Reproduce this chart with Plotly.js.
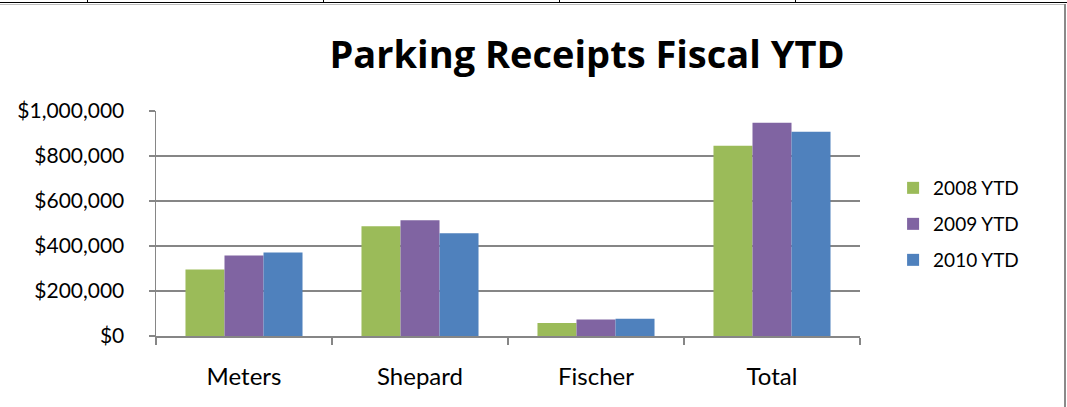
<!DOCTYPE html>
<html>
<head>
<meta charset="utf-8">
<script src="https://cdn.plot.ly/plotly-3.0.1.min.js"></script>
<style>
  html, body { margin: 0; padding: 0; background: #fff; }
  #wrap { position: relative; width: 1067px; height: 407px; overflow: hidden; }
  #chart { width: 1067px; height: 407px; }
  .deco { position: absolute; pointer-events: none; }
</style>
</head>
<body>
<div id="wrap">
  <div id="chart"></div>
  <div class="deco" style="left:0;top:2px;width:1067px;height:1px;background:#000;"></div>
  <div class="deco" style="left:0;top:4px;width:1066px;height:1px;background:#bdbdbd;"></div>
  <div class="deco" style="left:87px;top:0;width:1px;height:3px;background:#000;"></div>
  <div class="deco" style="left:323px;top:0;width:1px;height:3px;background:#000;"></div>
  <div class="deco" style="left:559px;top:0;width:1px;height:3px;background:#000;"></div>
  <div class="deco" style="left:795px;top:0;width:1px;height:3px;background:#000;"></div>
  <div class="deco" style="left:1064px;top:4px;width:2px;height:403px;background:#8a8a8a;"></div>
</div>
<script>
const categories = ["Meters", "Shepard", "Fischer", "Total"];
const seriesNames = ["2008 YTD", "2009 YTD", "2010 YTD"];
const ytd2008 = [296000, 488000, 58000, 846000];
const ytd2009 = [358000, 514000, 73000, 948000];
const ytd2010 = [371000, 457000, 77000, 908000];
const yTickVals = [0, 200000, 400000, 600000, 800000, 1000000];
const yTickText = ["$0", "$200,000", "$400,000", "$600,000", "$800,000", "$1,000,000"];
const colors = ["#9BBB59", "#8064A2", "#4F81BD"];

const FONT = "Lato, 'Open Sans', sans-serif";
const TITLE_FONT = "'Open Sans', Lato, sans-serif";
const allSeries = [ytd2008, ytd2009, ytd2010];
const legendIds = ["legend", "legend2", "legend3"];

const traces = allSeries.map((vals, i) => ({
  type: "bar",
  name: seriesNames[i],
  x: categories,
  y: vals,
  legend: legendIds[i],
  marker: { color: colors[i], line: { width: 0 } },
  hoverinfo: "x+y+name"
}));

function legendAt(py) {
  return {
    x: 1.047, xanchor: "left",
    y: (336 - py) / 225, yanchor: "middle",
    font: { family: FONT, size: 19, color: "#000" },
    bgcolor: "rgba(0,0,0,0)",
    borderwidth: 0
  };
}

const layout = {
  width: 1067, height: 407,
  margin: { l: 156, r: 207, t: 111, b: 71, pad: 0 },
  paper_bgcolor: "#fff",
  plot_bgcolor: "#fff",
  font: { family: FONT, size: 21, color: "#000" },
  title: {
    text: "<b>Parking Receipts Fiscal YTD</b>",
    font: { family: TITLE_FONT, size: 38, color: "#000" },
    x: 587 / 1067, xanchor: "center", xref: "container",
    y: 1 - 55 / 407, yanchor: "middle", yref: "container"
  },
  barmode: "group",
  bargap: 0.335,
  bargroupgap: 0,
  showlegend: true,
  legend: legendAt(188),
  legend2: legendAt(224),
  legend3: legendAt(260),
  xaxis: {
    type: "category",
    showgrid: false,
    showline: true, linecolor: "#868686", linewidth: 1.5,
    ticks: "outside", tickson: "boundaries", ticklen: 7, tickcolor: "#868686", tickwidth: 1.5,
    tickfont: { family: FONT, size: 24, color: "#000" },
    ticklabelstandoff: 19,
    zeroline: false
  },
  yaxis: {
    range: [0, 1000000],
    tickvals: yTickVals, ticktext: yTickText,
    showgrid: true, gridcolor: "#868686", gridwidth: 1.5,
    showline: true, linecolor: "#868686", linewidth: 1.5,
    ticks: "outside", ticklen: 6, tickcolor: "#868686", tickwidth: 1.5,
    tickfont: { family: FONT, size: 21, color: "#000" },
    ticklabelstandoff: 20,
    zeroline: false
  }
};

Plotly.newPlot("chart", traces, layout, { displayModeBar: false, staticPlot: true });
</script>
</body>
</html>
